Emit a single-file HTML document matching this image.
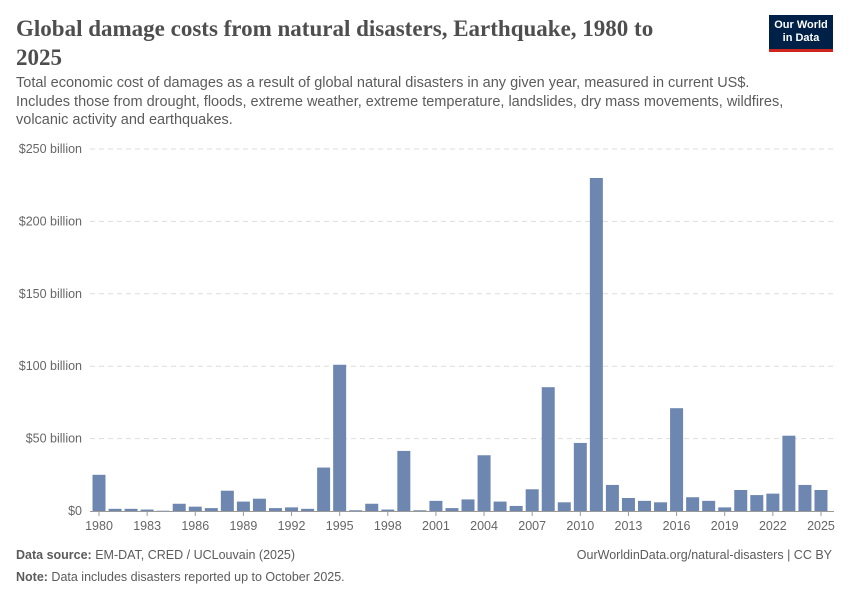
<!DOCTYPE html>
<html><head><meta charset="utf-8"><style>
body{margin:0;background:#fff;font-family:"Liberation Sans",sans-serif;}
#wrap{position:relative;width:850px;height:600px;overflow:hidden;}
h1{position:absolute;left:16px;top:14px;margin:0;width:660px;font-family:"Liberation Serif",serif;font-weight:bold;font-size:23px;line-height:29px;color:#4e4e4e;white-space:nowrap;}
.sub{position:absolute;left:16px;top:74px;width:830px;font-size:14.5px;line-height:18.5px;color:#5b5b5b;white-space:nowrap;}
.logo{position:absolute;left:769px;top:15px;width:64px;height:37px;background:#002147;color:#fff;font-size:11px;font-weight:bold;line-height:12.5px;text-align:center;padding-top:4px;box-sizing:border-box;border-bottom:3px solid #ce261e;}
.foot{position:absolute;font-size:12.5px;color:#5b5b5b;}
</style></head><body><div id="wrap">
<h1>Global damage costs from natural disasters, Earthquake, 1980 to<br>2025</h1>
<div class="logo">Our World<br>in Data</div>
<div class="sub">Total economic cost of damages as a result of global natural disasters in any given year, measured in current US$.<br>Includes those from drought, floods, extreme weather, extreme temperature, landslides, dry mass movements, wildfires,<br>volcanic activity and earthquakes.</div>
<svg id="chart" width="850" height="600" style="position:absolute;left:0;top:0"></svg>
<div class="foot" style="left:16px;top:548px"><b>Data source:</b> EM-DAT, CRED / UCLouvain (2025)</div>
<div class="foot" style="right:18px;top:548px">OurWorldinData.org/natural-disasters | CC BY</div>
<div class="foot" style="left:16px;top:570px"><b>Note:</b> Data includes disasters reported up to October 2025.</div>
</div>
<script>
const years=[];for(let y=1980;y<=2025;y++)years.push(y);
const values=[25,1.5,1.5,1,0.2,5,3,2,14,6.5,8.5,2,2.5,1.5,30,101,0.5,5,1,41.5,0.5,7,2,8,38.5,6.5,3.5,15,85.5,6,47,230,18,9,7,6,71,9.5,7,2.5,14.5,11,12,52,18,14.5];
const yTicks=[0,50,100,150,200,250];
const yTickLabels=["$0","$50 billion","$100 billion","$150 billion","$200 billion","$250 billion"];
const xTickYears=[1980,1983,1986,1989,1992,1995,1998,2001,2004,2007,2010,2013,2016,2019,2022,2025];
const svg=document.getElementById('chart');const NS='http://www.w3.org/2000/svg';
const y0=511,y1=149,x0=99,step=16.044,bw=13;
const ys=v=>y0-(v/250)*(y0-y1);
const xs=yr=>x0+(yr-1980)*step;
function mk(t,a){const e=document.createElementNS(NS,t);for(const k in a)e.setAttribute(k,a[k]);svg.appendChild(e);return e;}
yTicks.forEach((t,i)=>{
 if(t>0){const l=mk('line',{x1:90,x2:834,y1:ys(t),y2:ys(t),stroke:'#ddd','stroke-dasharray':'5,4'});
 
 }
 const tx=mk('text',{x:82,y:ys(t)+4,'text-anchor':'end','font-size':'12.5',fill:'#666','font-family':'Liberation Sans,sans-serif'});
 tx.textContent=yTickLabels[i];
 
 
});
values.forEach((v,i)=>{
 const r=mk('rect',{x:xs(years[i])-bw/2,y:ys(v),width:bw,height:y0-ys(v),fill:'#6d87b0'});
 
 
});
const ax=mk('line',{x1:90,x2:834,y1:y0+0.5,y2:y0+0.5,stroke:'#999'});


xTickYears.forEach(yr=>{
 const tk=mk('line',{x1:xs(yr),x2:xs(yr),y1:y0,y2:y0+5,stroke:'#999'});
 
 
 const tx=mk('text',{x:xs(yr),y:y0+19,'text-anchor':'middle','font-size':'12.5',fill:'#666','font-family':'Liberation Sans,sans-serif'});
 tx.textContent=yr;
 
 
});
</script></body></html>
